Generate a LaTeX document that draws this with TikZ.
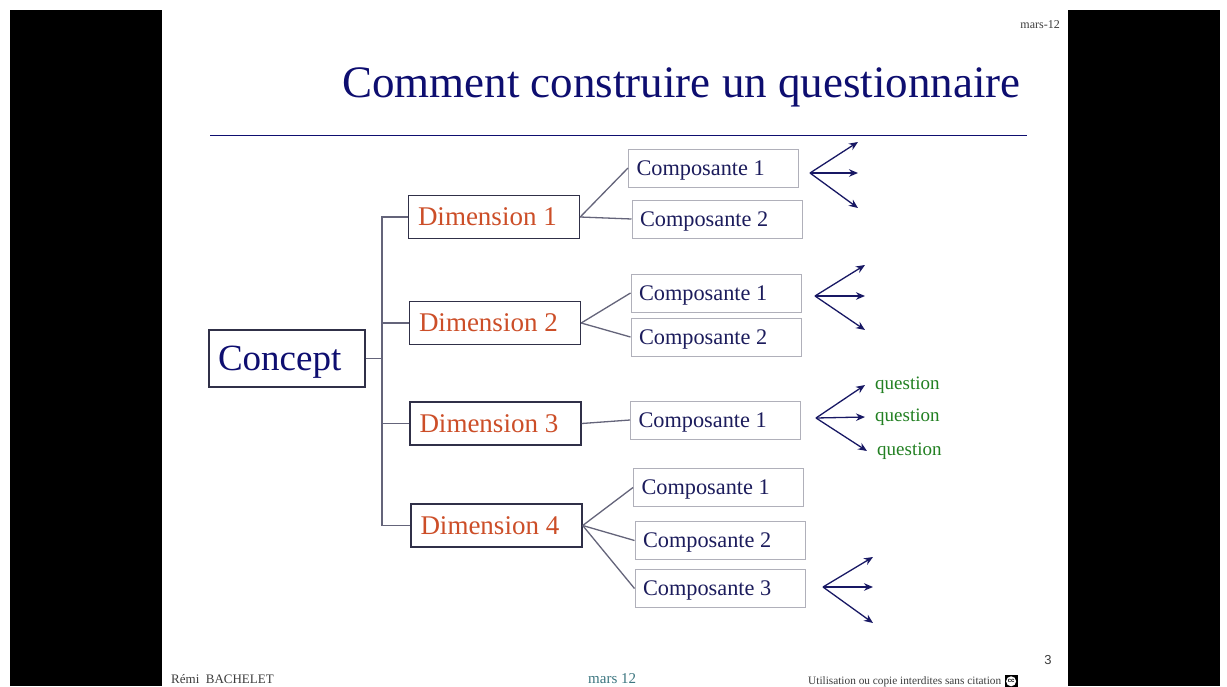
\documentclass[tikz,border=0pt]{standalone}
\usepackage{fontspec}
\setmainfont{Liberation Serif}
\newfontfamily\footsans{Liberation Sans}
\usetikzlibrary{arrows.meta}
\definecolor{titleblue}{RGB}{14,14,112}
\definecolor{compblue}{RGB}{28,28,92}
\definecolor{dimred}{RGB}{204,78,40}
\definecolor{boxline}{RGB}{48,48,72}
\definecolor{compline}{RGB}{176,176,186}
\definecolor{linkgray}{RGB}{100,100,122}
\definecolor{arrowblue}{RGB}{24,24,100}
\definecolor{qgreen}{RGB}{34,128,34}
\definecolor{footgray}{RGB}{60,60,60}
\definecolor{footteal}{RGB}{60,118,128}

\begin{document}
\begin{tikzpicture}[x=1pt,y=-1pt,
  dimbox/.style={draw=boxline,line width=1.4pt,minimum width=171pt,minimum height=43pt,inner sep=0pt,text width=152pt,align=flush left,text=dimred,font=\fontsize{27}{27}\selectfont},
  compbox/.style={draw=compline,line width=1pt,minimum width=170pt,minimum height=38pt,inner sep=0pt,text width=154pt,align=flush left,text depth=0pt,text=compblue,font=\fontsize{22.3}{22.3}\selectfont},
  link/.style={draw=linkgray,line width=1.3pt},
  fan/.style={draw=arrowblue,line width=1.3pt,-{Stealth[length=9pt,width=7.5pt]}},
  question/.style={anchor=west,inner xsep=10pt,inner ysep=3pt,text=qgreen,font=\fontsize{19}{19}\selectfont}]
% page and black side bars
\fill[white] (0,0) rectangle (1227,686);
\fill[black] (10,10) rectangle (162,686);
\fill[black] (1068,10) rectangle (1220,686);
\useasboundingbox (0,0) rectangle (1227,686);
% header
\node[anchor=base east,inner sep=0pt,font=\fontsize{12}{12}\selectfont,text=footgray] (date) at (1060,28) {mars-12};
\node[anchor=base west,inner sep=0pt,text=titleblue,font=\fontsize{45}{45}\selectfont] (title) at (342,97) {Comment construire un questionnaire};
\draw[titleblue,line width=1pt] (210,135) -- (1027,135);
% concept and dimensions
\node[draw=boxline,line width=1.4pt,minimum width=156pt,minimum height=57pt,inner sep=0pt,text width=138pt,align=flush left,text depth=0pt,text=titleblue,font=\fontsize{37}{37}\selectfont] (concept) at (287,358.5) {Concept};
\node[dimbox] (dim1) at (494,217) {Dimension 1};
\node[dimbox] (dim2) at (495,323) {Dimension 2};
\node[dimbox] (dim3) at (495.5,423.5) {Dimension 3};
\node[dimbox] (dim4) at (496.5,525.5) {Dimension 4};
\coordinate (trunk) at (382,217);
\draw[link] (dim1.west) -- (dim1.west -| trunk) -- (dim4.west -| trunk) -- (dim4.west);
\draw[link] (dim2.west) -- (dim2.west -| trunk);
\draw[link] (dim3.west) -- (dim3.west -| trunk);
\draw[link] (concept.east) -- (concept.east -| trunk);
% composantes
\node[compbox] (c11) at (713.5,168) {Composante 1};
\node[compbox] (c12) at (717,219) {Composante 2};
\node[compbox] (c21) at (716,293) {Composante 1};
\node[compbox] (c22) at (716,337) {Composante 2};
\node[compbox] (c31) at (715.5,420) {Composante 1};
\node[compbox] (c41) at (718.5,487.5) {Composante 1};
\node[compbox] (c42) at (720,540.5) {Composante 2};
\node[compbox] (c43) at (720,588.5) {Composante 3};
\draw[link] (dim1.east) -- (c11.west);
\draw[link] (dim1.east) -- (c12.west);
\draw[link] (dim2.east) -- (c21.west);
\draw[link] (dim2.east) -- (c22.west);
\draw[link] (dim3.east) -- (c31.west);
\draw[link] (dim4.east) -- (c41.west);
\draw[link] (dim4.east) -- (c42.west);
\draw[link] (dim4.east) -- (c43.west);
% fans of questions
\coordinate (f11) at (810,173);
\coordinate (f21) at (815,296);
\coordinate (f31) at (816,418);
\coordinate (f43) at (823,587);
\foreach \dy in {-31,0,35} \draw[fan] (f11) -- ++(48,\dy);
\foreach \dy in {-31,0,34} \draw[fan] (f21) -- ++(50,\dy);
\foreach \dy in {-30,0,36} \draw[fan] (f43) -- ++(50,\dy);
\node[question] (q1) at (865,385) {question};
\node[question] (q2) at (865,417) {question};
\node[question] (q3) at (867,451) {question};
\draw[fan] (f31) -- (q1.west);
\draw[fan] (f31) -- (q2.west);
\draw[fan] (f31) -- (q3.west);
% footer
\node[anchor=base west,inner sep=0pt,text=footgray,font=\fontsize{13}{13}\selectfont] (author) at (171,683) {Rémi\ \ BACHELET};
\node[anchor=base west,inner sep=0pt,text=footteal,font=\fontsize{15}{15}\selectfont] (footdate) at (588,683) {mars\ 12};
\node[anchor=base west,inner sep=0pt,text=footgray,font=\fontsize{11.3}{11.3}\selectfont] (usage) at (808,684) {Utilisation ou copie interdites sans citation};
\node[anchor=west,fill=black,minimum size=13pt,inner sep=0pt] (cc) at ([xshift=3pt]usage.east) {};
\node[circle,fill=white,minimum size=10pt,inner sep=0pt,font=\footsans\bfseries\fontsize{6}{6}\selectfont] (cclogo) at (cc) {cc};
\node[inner sep=0pt,text=footgray,font=\footsans\fontsize{13}{13}\selectfont] (pagenum) at (1048,660) {3};
\end{tikzpicture}
\end{document}
